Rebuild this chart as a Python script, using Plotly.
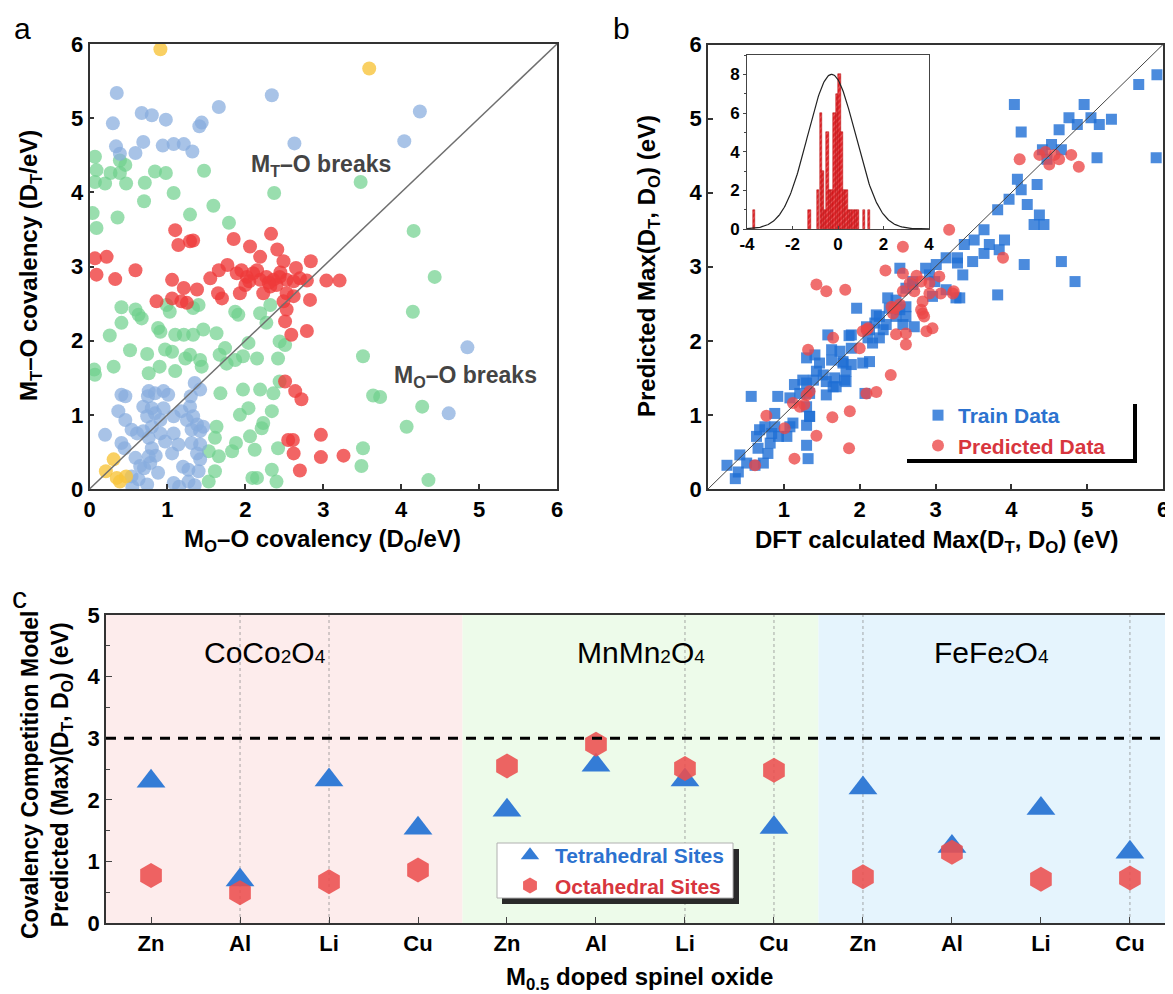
import numpy as np
import plotly.graph_objects as go

# The page places the figure 8px from the top-left corner of the 1173x994 window,
# so the figure is sized to fill the rest and positions are given in window pixels.
OX, OY = 8, 8
W, H = 1173 - OX, 994 - OY
FONT = "Arial, Liberation Sans, sans-serif"


def PX(x):
    return (x - OX) / W


def PY(y):
    return 1 - (y - OY) / H


# ---------------- Panel a data: covalency map ----------------
a_blue_x = [0.35, 0.30, 0.67, 0.80, 0.98, 0.69, 0.59, 0.34, 0.39, 0.94, 1.08, 1.21, 1.32, 1.41, 1.44, 1.66, 2.34, 2.63, 4.24, 4.04, 4.85, 4.61,
            0.41, 0.46, 0.37, 0.46, 0.54, 0.61, 0.20, 0.41, 0.76, 0.84, 0.95, 1.01, 1.35, 1.42, 0.69, 0.80, 0.84, 0.95, 1.08, 1.18, 1.29, 1.33,
            1.25, 1.38, 1.46, 1.31, 1.42, 0.69, 0.76, 0.80, 0.76, 0.91, 1.08, 0.97, 1.06, 1.14, 1.31, 1.42, 1.38, 1.42, 0.59, 0.65, 0.54, 0.63,
            0.74, 0.88, 0.78, 1.08, 1.27, 1.27, 1.40, 0.74, 0.91, 0.80, 0.55, 0.70, 0.85, 1.20, 1.15, 1.35, 0.75, 1.30, 0.45]
a_blue_y = [5.34, 4.93, 5.07, 5.04, 4.98, 4.68, 4.53, 4.62, 4.52, 4.63, 4.65, 4.65, 4.55, 4.89, 4.94, 5.15, 5.31, 4.66, 5.09, 4.69, 1.91, 1.02,
            1.27, 1.25, 1.05, 0.93, 0.80, 0.75, 0.73, 0.62, 1.32, 1.29, 1.32, 1.27, 1.43, 1.34, 1.11, 1.09, 1.02, 1.09, 0.98, 1.05, 1.11, 0.98,
            0.93, 0.87, 0.84, 0.80, 0.78, 0.78, 0.69, 0.55, 0.44, 0.75, 0.75, 0.64, 0.48, 0.60, 0.62, 0.60, 0.48, 0.40, 0.42, 0.31, 0.17, 0.13,
            0.06, 0.22, 0.35, 0.08, 0.10, 0.26, 0.24, 0.98, 0.93, 0.84, 0.03, 0.28, 0.45, 0.30, 0.03, 0.05, 1.25, 1.25, 0.55]

a_green_x = [0.07, 0.09, 0.07, 0.20, 0.27, 0.39, 0.46, 0.39, 0.47, 0.71, 0.84, 0.98, 1.08, 0.70, 0.36, 0.09, 0.04, 1.29, 1.47, 1.59, 1.79, 2.37,
             3.48, 4.16, 4.43, 4.15, 4.27, 4.07, 4.35, 3.73,
             0.41, 0.41, 0.26, 0.59, 0.63, 0.67, 0.52, 0.31, 0.06, 0.07, 0.74, 0.76, 0.90, 0.88, 0.91, 0.97, 1.06, 1.10, 1.21, 1.33, 1.46, 1.10,
             1.23, 1.29, 1.42, 1.44, 1.63, 1.67, 1.74, 1.76, 1.87, 1.97, 2.04, 2.15, 2.42, 2.44, 2.51, 2.27, 2.19, 2.32, 1.87, 1.91, 0.99, 1.03,
             1.33, 1.40, 1.68, 1.97, 2.19, 2.36, 2.44, 2.04, 1.93, 2.34, 2.23, 2.21, 2.06, 1.88, 1.83, 2.12, 2.42, 1.63, 1.61, 1.53, 1.66, 1.61,
             1.53, 2.09, 2.15, 2.34, 2.40, 3.51, 3.64, 3.51, 3.49]
a_green_y = [4.48, 4.30, 4.14, 4.12, 4.26, 4.26, 4.37, 4.43, 4.12, 4.13, 4.28, 4.26, 3.99, 3.88, 3.66, 3.52, 3.72, 3.70, 4.29, 3.82, 3.59, 3.99,
             4.14, 3.48, 2.86, 2.39, 1.11, 0.84, 0.12, 1.24,
             2.45, 2.24, 2.07, 2.42, 2.35, 2.30, 1.87, 1.65, 1.61, 1.54, 1.82, 1.56, 1.65, 2.17, 2.12, 1.88, 1.85, 2.08, 2.08, 2.08, 2.15, 1.59,
             1.76, 1.81, 1.74, 1.65, 2.10, 1.81, 1.90, 1.69, 1.74, 1.79, 1.97, 1.76, 1.76, 1.99, 1.94, 2.24, 2.37, 2.48, 2.39, 2.35, 2.48, 2.39,
             2.44, 2.48, 1.29, 1.34, 1.34, 1.29, 1.45, 1.09, 1.00, 1.05, 0.89, 0.82, 0.71, 0.62, 0.51, 0.53, 0.55, 0.84, 0.69, 0.51, 0.44, 0.24,
             0.10, 0.15, 0.15, 0.26, 0.10, 1.79, 1.26, 0.55, 0.31]

a_red_x = [0.07, 0.22, 0.59, 1.10, 1.14, 1.29, 1.33, 1.85, 2.06, 2.19, 2.33, 2.41, 2.49, 2.84, 2.65, 1.66, 1.77,
           0.09, 0.33, 1.06, 1.21, 1.38, 1.55, 1.65, 1.70, 1.93, 0.86, 1.06, 1.18, 1.25, 1.89, 2.02, 2.10, 2.19, 2.27, 2.36, 2.44, 2.53,
           2.62, 2.70, 2.79, 2.23, 2.32, 2.40, 2.53, 2.62, 2.83, 3.04, 3.21, 2.49, 2.53, 2.51, 2.59, 2.79, 2.51, 2.64, 2.72, 2.55, 2.61,
           2.97, 2.62, 2.97, 3.26, 2.70, 1.95, 2.05, 2.15, 2.30, 2.45, 2.00]
a_red_y = [3.11, 3.13, 2.95, 3.49, 3.29, 3.34, 3.35, 3.37, 3.27, 3.13, 3.44, 3.23, 3.07, 3.07, 2.98, 2.95, 3.02,
           2.89, 2.83, 2.82, 2.71, 2.69, 2.84, 2.64, 2.57, 2.64, 2.53, 2.57, 2.53, 2.51, 2.91, 2.86, 2.91, 2.82, 2.86, 2.82, 2.86, 2.82,
           2.80, 2.84, 2.81, 2.64, 2.73, 2.75, 2.64, 2.60, 2.55, 2.81, 2.81, 2.53, 2.42, 2.26, 2.08, 2.13, 1.45, 1.32, 1.21, 0.66, 0.66,
           0.73, 0.48, 0.43, 0.45, 0.25, 2.95, 2.80, 2.95, 2.78, 2.92, 2.75]

a_yellow_x = [0.91, 3.59, 0.31, 0.21, 0.35, 0.47, 0.39]
a_yellow_y = [5.93, 5.67, 0.40, 0.24, 0.15, 0.17, 0.10]

# ---------------- Panel b data: parity plot ----------------
b_train_x = [0.36, 0.25, 0.40, 0.42, 0.51, 0.62, 0.73, 0.66, 0.79, 0.82, 0.64, 0.68, 0.75, 0.84, 0.88, 0.93, 1.04, 1.08, 1.12, 0.88,
             0.92, 1.08, 1.14, 1.21, 1.30, 1.34, 1.30, 1.30, 1.32, 0.57, 1.25, 1.39, 1.43, 1.56, 1.65, 1.67, 1.52, 1.63, 1.30, 1.41,
             1.63, 1.74, 1.78, 1.82, 1.80, 1.89, 1.89, 1.89, 1.58, 2.07, 2.13, 2.04, 2.17, 2.11, 2.13, 2.20, 2.26, 2.31, 2.35, 1.96,
             2.37, 2.48, 2.53, 2.61, 2.57, 2.72, 2.70, 2.96, 3.27,
             2.53, 1.86, 2.39, 2.61, 2.70, 2.87, 2.92, 3.01, 3.14, 3.29, 3.36, 3.32, 3.49, 3.64, 3.82, 4.84, 3.14, 2.99, 2.22, 2.09,
             2.26, 2.48, 2.61, 1.47, 1.78, 1.56, 1.69, 1.82, 1.30, 1.34, 1.34,
             5.92, 5.68, 5.91, 4.96, 5.05, 5.16, 5.32, 4.87, 4.76, 4.63, 4.53, 4.41, 4.47, 4.66, 4.04, 4.13, 4.08, 4.13, 3.97, 4.21,
             4.34, 4.37, 4.30, 4.43, 3.82, 3.64, 3.51, 3.38, 3.29, 3.71, 3.84, 3.91, 4.66, 4.17, 5.13]
b_train_y = [0.14, 0.32, 0.23, 0.46, 0.35, 0.32, 0.35, 0.55, 0.48, 0.62, 0.71, 0.80, 0.84, 0.75, 0.84, 0.71, 0.71, 0.84, 0.89, 1.02,
             1.25, 1.23, 1.41, 1.29, 1.11, 0.98, 0.86, 0.59, 0.41, 1.25, 1.47, 1.47, 1.59, 1.27, 1.38, 1.50, 1.54, 1.74, 1.77, 1.81,
             1.88, 1.86, 1.72, 1.59, 1.47, 1.68, 1.90, 2.08, 2.08, 1.29, 1.72, 1.70, 1.97, 2.04, 2.15, 2.24, 2.33, 2.15, 2.22, 2.44,
             2.58, 2.55, 2.42, 2.33, 2.22, 2.19, 2.76, 2.60, 2.58,
             2.98, 2.07, 2.44, 2.71, 2.80, 2.98, 2.89, 3.03, 3.12, 3.05, 2.89, 2.58, 3.07, 3.18, 2.62, 2.80, 2.69, 2.80, 2.35, 2.19,
             2.04, 2.33, 2.46, 1.70, 1.70, 1.45, 1.38, 1.45, 1.43, 1.29, 0.98,
             5.59, 5.46, 4.47, 5.19, 5.01, 4.92, 4.99, 4.92, 5.01, 4.85, 4.65, 4.58, 4.45, 4.58, 5.19, 4.82, 4.18, 4.04, 3.91, 3.84,
             4.11, 3.70, 3.57, 3.57, 3.77, 3.50, 3.36, 3.30, 3.12, 3.30, 3.23, 3.36, 3.07, 3.03, 4.47]

b_pred_x = [1.43, 1.56, 1.81, 1.65, 1.32, 0.77, 1.01, 1.12, 1.21, 1.30, 1.34, 1.27, 0.62, 1.14, 1.43, 1.64, 1.87, 1.86, 2.09, 2.22,
            2.41, 2.00, 2.04, 2.11, 2.48, 2.61, 2.61, 2.44, 2.42, 2.53, 2.88, 2.96, 2.83, 2.83, 2.92, 3.07, 3.23, 2.92,
            2.34, 2.57, 2.75, 2.81, 3.05, 2.66, 2.57, 2.81, 2.85, 2.46, 2.72, 3.24, 3.89, 2.09,
            2.57, 3.18, 4.11, 4.37, 4.50, 4.57, 4.63, 4.79, 4.89, 4.45]
b_pred_y = [2.76, 2.67, 2.69, 2.04, 1.88, 0.99, 0.82, 1.16, 1.11, 1.27, 1.32, 1.14, 0.32, 0.41, 0.72, 0.97, 1.05, 0.55, 1.29, 1.31,
            1.54, 1.90, 2.13, 2.17, 2.09, 2.10, 1.95, 2.37, 2.46, 2.49, 2.13, 2.17, 2.37, 2.53, 2.64, 2.64, 2.64, 2.78,
            2.95, 2.91, 2.88, 2.80, 2.87, 2.78, 2.67, 2.42, 2.33, 2.44, 2.67, 2.67, 3.12, 2.15,
            3.27, 3.50, 4.45, 4.51, 4.38, 4.51, 4.45, 4.51, 4.35, 4.55]

# ---------------- Inset data: error histogram ----------------
err_bins = [-3.68, -1.25, -0.87, -0.76, -0.66, -0.56, -0.46, -0.35, -0.25, -0.15, -0.04, 0.06, 0.16, 0.26, 0.37, 0.47,
            0.57, 0.68, 0.78, 0.88, 1.13, 1.35]
err_counts = [1, 1, 2, 6, 3, 1, 5, 2, 2, 6, 7, 8, 5, 2, 2, 1, 1, 1, 1, 1, 1, 1]
err_ticks = [-4, -2, 0, 2, 4]
GAUSS_MU, GAUSS_SIGMA, GAUSS_AMP = -0.28, 1.05, 8.0  # fitted normal curve

# ---------------- Panel c data ----------------
hosts = ["CoCo2O4", "MnMn2O4", "FeFe2O4"]
dopants = ["Zn", "Al", "Li", "Cu"]
tetra_vals = [2.30, 0.70, 2.32, 1.54, 1.83, 2.56, 2.32, 1.55, 2.19, 1.24, 1.86, 1.15]
octa_vals = [0.77, 0.49, 0.67, 0.86, 2.55, 2.90, 2.51, 2.48, 0.75, 1.15, 0.71, 0.73]
threshold = 3.0
dotted_cats = [1, 2, 6, 7, 8, 11]  # categories showing a faint dotted guide line

cat_labels = [d for h in hosts for d in dopants]
cat_pos = list(range(len(cat_labels)))

# ---------------- figure ----------------
fig = go.Figure()

A_COL = {"blue": "rgba(135,172,222,0.72)", "green": "rgba(110,208,140,0.70)",
         "red": "rgba(238,58,58,0.78)", "yellow": "rgba(248,196,60,0.80)"}
for key, xs, ys in [("green", a_green_x, a_green_y), ("blue", a_blue_x, a_blue_y),
                    ("red", a_red_x, a_red_y), ("yellow", a_yellow_x, a_yellow_y)]:
    fig.add_trace(go.Scatter(x=xs, y=ys, mode="markers", xaxis="x", yaxis="y", showlegend=False,
                             marker=dict(size=14, color=A_COL[key], line=dict(width=0))))

fig.add_trace(go.Scatter(x=b_train_x, y=b_train_y, mode="markers", xaxis="x2", yaxis="y2",
                         name="<span style='color:#2C72CF'>Train Data</span>", legend="legend2",
                         marker=dict(symbol="square", size=11, color="rgba(30,110,212,0.80)", line=dict(width=0))))
fig.add_trace(go.Scatter(x=b_pred_x, y=b_pred_y, mode="markers", xaxis="x2", yaxis="y2",
                         name="<span style='color:#D8363E'>Predicted Data</span>", legend="legend2",
                         marker=dict(symbol="circle", size=12, color="rgba(236,70,70,0.78)", line=dict(width=0))))

# inset
fig.add_trace(go.Bar(x=err_bins, y=err_counts, xaxis="x3", yaxis="y3", width=0.105, showlegend=False,
                     marker=dict(color="#E0262B", line=dict(color="#B00000", width=0.5),
                                 pattern=dict(shape="/", fgcolor="rgba(255,190,190,0.9)", size=4, solidity=0.25))))
gx = np.linspace(-4, 4, 241)
gy = GAUSS_AMP * np.exp(-(gx - GAUSS_MU) ** 2 / (2 * GAUSS_SIGMA ** 2))
fig.add_trace(go.Scatter(x=gx, y=gy, mode="lines", xaxis="x3", yaxis="y3", showlegend=False,
                         line=dict(color="#222", width=1.2)))

# panel c
fig.add_trace(go.Scatter(x=cat_pos, y=tetra_vals, mode="markers", xaxis="x4", yaxis="y4",
                         name="<span style='color:#2C72CF'>Tetrahedral Sites</span>", legend="legend",
                         marker=dict(symbol="triangle-up", size=25, color="rgb(52,124,214)", line=dict(width=0))))
fig.add_trace(go.Scatter(x=cat_pos, y=octa_vals, mode="markers", xaxis="x4", yaxis="y4",
                         name="<span style='color:#D8363E'>Octahedral Sites</span>", legend="legend",
                         marker=dict(symbol="hexagon", size=25, color="rgba(236,78,78,0.88)", line=dict(width=0))))


def dom_x(x0, x1):
    return [PX(x0), PX(x1)]


def dom_y(ytop, ybot):
    return [PY(ybot), PY(ytop)]


tick_ab = dict(family=FONT, size=22, color="black", weight="bold")
axis_common = dict(showline=True, mirror=True, linecolor="#333", linewidth=1.5, ticks="inside", ticklen=5,
                   tickwidth=1.5, tickcolor="#333", showgrid=False, zeroline=False, tickfont=tick_ab, automargin=False)

layout_axes = dict(
    xaxis=dict(domain=dom_x(89.5, 557), range=[0, 6], dtick=1, anchor="y", **axis_common),
    yaxis=dict(domain=dom_y(44, 489), range=[0, 6], dtick=1, anchor="x", **axis_common),
    xaxis2=dict(domain=dom_x(708, 1163), range=[0, 6], tickvals=[1, 2, 3, 4, 5, 6], anchor="y2", **axis_common),
    yaxis2=dict(domain=dom_y(44.5, 489), range=[0, 6], dtick=1, anchor="x2", **axis_common),
    xaxis3=dict(domain=dom_x(747, 929), range=[-4, 4], tickvals=err_ticks, ticktext=[str(t) for t in err_ticks],
                anchor="y3", automargin=False,
                showline=True, mirror=True, linecolor="#444", linewidth=1, ticks="inside", ticklen=3,
                showgrid=False, zeroline=False, tickfont=dict(family=FONT, size=17, color="black", weight="bold")),
    yaxis3=dict(domain=dom_y(55, 229), range=[0, 9], tickvals=[0, 2, 4, 6, 8], anchor="x3", automargin=False,
                showline=True, mirror=True, linecolor="#444", linewidth=1, ticks="outside", ticklen=3,
                minor=dict(ticks="outside", ticklen=2, dtick=1),
                showgrid=False, zeroline=False, tickfont=dict(family=FONT, size=17, color="black", weight="bold")),
    xaxis4=dict(domain=dom_x(106, 1173), range=[-0.506, 11.484], tickvals=cat_pos, ticktext=cat_labels, anchor="y4",
                showline=True, mirror=True, linecolor="#333", linewidth=1.5, ticks="inside", ticklen=6, tickwidth=1.2,
                showgrid=False, zeroline=False, automargin=False,
                tickfont=dict(family=FONT, size=22, color="black", weight="bold")),
    yaxis4=dict(domain=dom_y(615, 923), range=[0, 5], dtick=1, anchor="x4", automargin=False,
                showline=True, linecolor="#333", linewidth=1.5, ticks="inside", ticklen=6, tickwidth=1.2,
                minor=dict(ticks="inside", ticklen=4, dtick=0.5), showgrid=False, zeroline=False,
                tickfont=dict(family=FONT, size=22, color="black", weight="bold")),
)

shapes = []
# diagonals
shapes.append(dict(type="line", xref="x", yref="y", x0=0, y0=0, x1=6, y1=6, line=dict(color="#6f6f6f", width=1.5), layer="above"))
shapes.append(dict(type="line", xref="x2", yref="y2", x0=0, y0=0, x1=6, y1=6, line=dict(color="#444", width=1), layer="above"))
# panel c backgrounds
bg_cols = ["rgb(253,236,236)", "rgb(237,251,234)", "rgb(229,244,253)"]
for i, c in enumerate(bg_cols):
    shapes.append(dict(type="rect", xref="x4", yref="y4 domain", x0=-0.506 if i == 0 else 4 * i - 0.5,
                       x1=4 * i + 3.5 if i < 2 else 11.484, y0=0, y1=1, fillcolor=c, line=dict(width=0), layer="below"))
for c in dotted_cats:
    shapes.append(dict(type="line", xref="x4", yref="y4 domain", x0=c, x1=c, y0=0, y1=1,
                       line=dict(color="rgba(140,140,140,0.75)", width=1, dash="dot"), layer="below"))
shapes.append(dict(type="line", xref="x4 domain", yref="y4", x0=0, x1=1, y0=threshold, y1=threshold,
                   line=dict(color="black", width=3, dash="10px,8px"), layer="above"))
# panel b legend L-shape
shapes.append(dict(type="line", xref="paper", yref="paper", x0=PX(907), x1=PX(1137), y0=PY(461), y1=PY(461),
                   line=dict(color="black", width=4)))
shapes.append(dict(type="line", xref="paper", yref="paper", x0=PX(1135), x1=PX(1135), y0=PY(404), y1=PY(463),
                   line=dict(color="black", width=4)))
# panel c legend box with shadow
shapes.append(dict(type="rect", xref="paper", yref="paper", x0=PX(502), x1=PX(739), y0=PY(904), y1=PY(849),
                   fillcolor="#2a2a2a", line=dict(width=0), layer="above"))
shapes.append(dict(type="rect", xref="paper", yref="paper", x0=PX(497), x1=PX(733), y0=PY(898), y1=PY(843),
                   fillcolor="white", line=dict(color="#b0b0b0", width=1), layer="above"))

ann = []


def add_text(text, x, y, size, angle=0, color="black", bold=True, xanchor="center", yanchor="middle"):
    ann.append(dict(text=text, x=PX(x), y=PY(y), xref="paper", yref="paper", showarrow=False, textangle=angle,
                    xanchor=xanchor, yanchor=yanchor,
                    font=dict(family=FONT, size=size, color=color, weight="bold" if bold else "normal")))


add_text("a", 22, 28, 30, bold=False)
add_text("b", 621, 28, 30, bold=False)
add_text("c", 19, 597, 30, bold=False)
add_text("M<sub>O</sub>–O covalency (D<sub>O</sub>/eV)", 322, 540, 24)
add_text("M<sub>T</sub>–O covalency (D<sub>T</sub>/eV)", 30, 266, 24, angle=-90)
add_text("DFT calculated Max(D<sub>T</sub>, D<sub>O</sub>) (eV)", 936, 541, 24)
add_text("Predicted Max(D<sub>T</sub>, D<sub>O</sub>) (eV)", 648, 266, 24, angle=-90)
add_text("M<sub>T</sub>–O breaks", 321, 165, 23, color="#444")
add_text("M<sub>O</sub>–O breaks", 465, 377, 23, color="#444")
add_text("Covalency Competition Model<br>Predicted (Max)(D<sub>T</sub>, D<sub>O</sub>) (eV)", 46, 775, 23, angle=-90)
add_text("M<sub>0.5</sub> doped spinel oxide", 640, 978, 24)
small = "<span style='font-size:19px'>{}</span>"
for name, cx in zip(["Co", "Mn", "Fe"], [265, 641, 991]):
    add_text(name + name + small.format("2") + "O" + small.format("4"), cx, 652, 30, bold=False)

fig.update_layout(
    width=W, height=H, margin=dict(l=0, r=0, t=0, b=0, autoexpand=False),
    paper_bgcolor="white", plot_bgcolor="white",
    font=dict(family=FONT, color="black"),
    shapes=shapes, annotations=ann, bargap=0,
    legend=dict(x=PX(505), y=PY(835), xanchor="left", yanchor="top", bgcolor="rgba(0,0,0,0)", borderwidth=0,
                font=dict(family=FONT, size=21, weight="bold"), tracegroupgap=0, itemwidth=40),
    legend2=dict(x=PX(918), y=PY(395), xanchor="left", yanchor="top", bgcolor="rgba(0,0,0,0)", borderwidth=0,
                 font=dict(family=FONT, size=21, weight="bold"), tracegroupgap=0),
    **layout_axes,
)

fig.write_html("out.html")
